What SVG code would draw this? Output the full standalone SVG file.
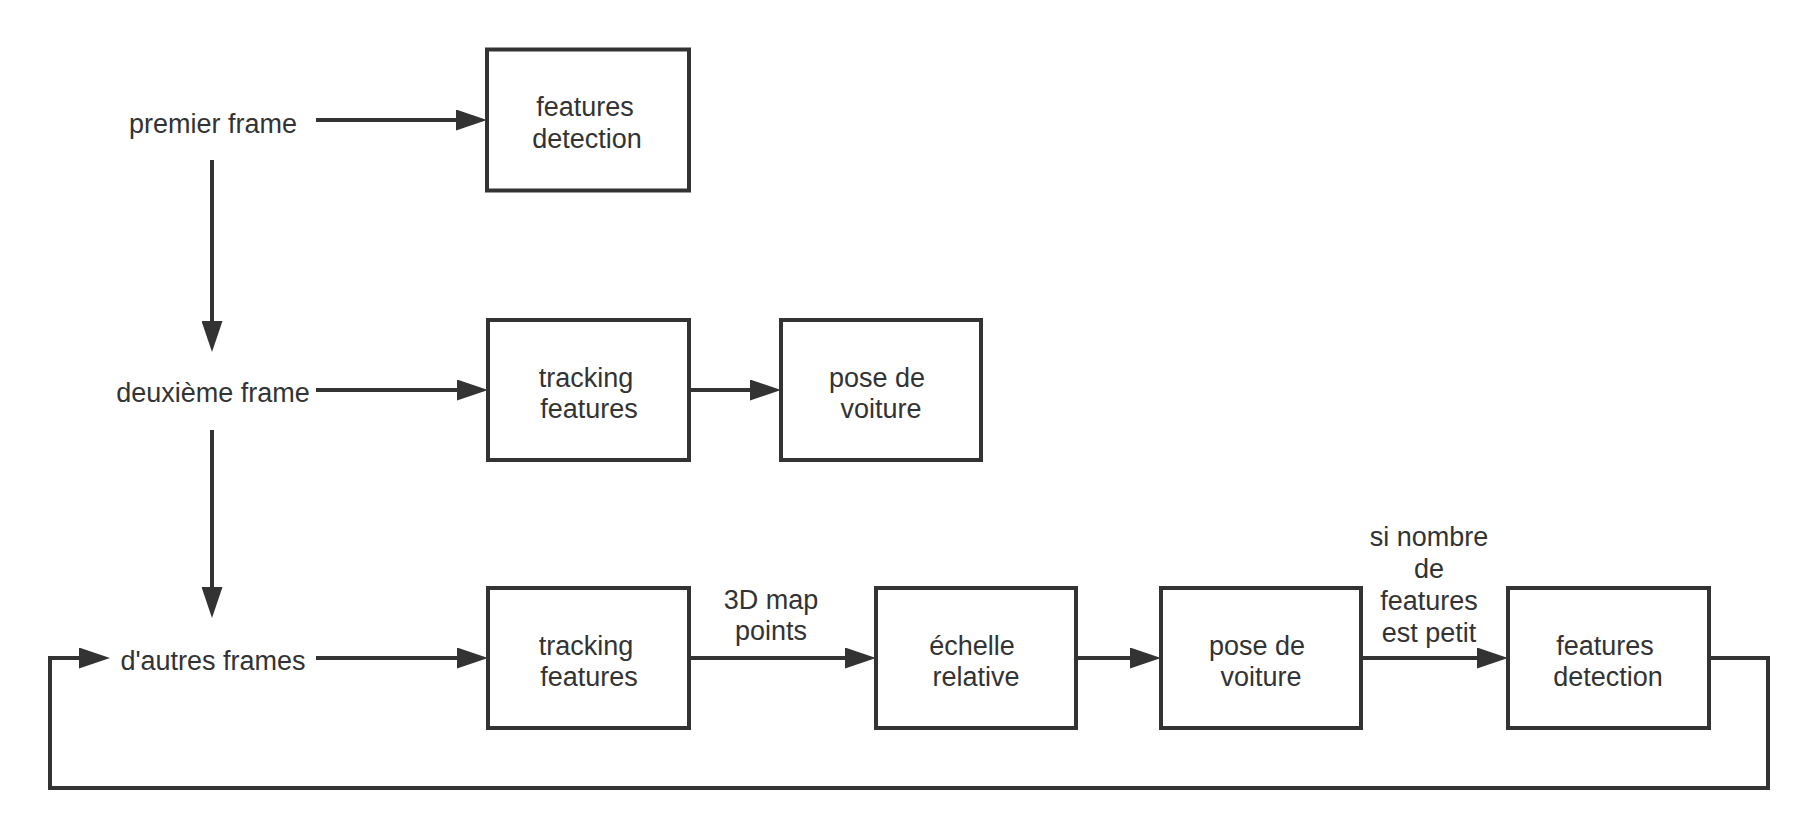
<svg xmlns="http://www.w3.org/2000/svg" width="1818" height="838" viewBox="0 0 1818 838">
  <style>
    .box { fill: #ffffff; stroke: #333333; stroke-width: 4; }
    .edge { fill: none; stroke: #333333; stroke-width: 4; }
    .t { font-family: "Liberation Sans", Arial, sans-serif; font-size: 27px; fill: #333333; text-anchor: middle; }
  </style>
  <defs>
    <marker id="arrow" viewBox="0 0 31 21" refX="5" refY="10.5" markerWidth="31" markerHeight="21" markerUnits="userSpaceOnUse" orient="auto">
      <path d="M0,0 L31,10.5 L0,21 z" fill="#333333"/>
    </marker>
  </defs>
  <rect width="1818" height="838" fill="#ffffff"/>

  <g id="connectors">
    <path class="edge" d="M316,120 L461,120" marker-end="url(#arrow)"/>
    <path class="edge" d="M212,160 L212,326" marker-end="url(#arrow)"/>
    <path class="edge" d="M316,390 L462,390" marker-end="url(#arrow)"/>
    <path class="edge" d="M689,390 L755,390" marker-end="url(#arrow)"/>
    <path class="edge" d="M212,430 L212,592" marker-end="url(#arrow)"/>
    <path class="edge" d="M316,658 L462,658" marker-end="url(#arrow)"/>
    <path class="edge" d="M689,658 L850,658" marker-end="url(#arrow)"/>
    <path class="edge" d="M1076,658 L1135,658" marker-end="url(#arrow)"/>
    <path class="edge" d="M1361,658 L1482,658" marker-end="url(#arrow)"/>
    <path class="edge" d="M1709,658 L1768,658 L1768,788 L50,788 L50,658 L84,658" marker-end="url(#arrow)"/>
    <g id="label-3d">
      <text class="t" x="771" y="609">3D map</text>
      <text class="t" x="771" y="640">points</text>
    </g>
    <g id="label-si">
      <text class="t" x="1429" y="546">si nombre</text>
      <text class="t" x="1429" y="578">de</text>
      <text class="t" x="1429" y="610">features</text>
      <text class="t" x="1429" y="641.5">est petit</text>
    </g>
  </g>

  <g id="premier-frame">
    <text class="t" x="213" y="132.5">premier frame</text>
  </g>
  <g id="deuxieme-frame">
    <text class="t" x="213" y="402">deuxième frame</text>
  </g>
  <g id="autres-frames">
    <text class="t" x="213" y="670">d'autres frames</text>
  </g>

  <g id="features-detection-1">
    <rect class="box" x="487" y="49.5" width="202" height="141"/>
    <text class="t" x="585" y="116">features</text>
    <text class="t" x="587" y="147.5">detection</text>
  </g>
  <g id="tracking-features-2">
    <rect class="box" x="488" y="320" width="201" height="140"/>
    <text class="t" x="586" y="387">tracking</text>
    <text class="t" x="589" y="418">features</text>
  </g>
  <g id="pose-voiture-2">
    <rect class="box" x="781" y="320" width="200" height="140"/>
    <text class="t" x="877" y="387">pose de</text>
    <text class="t" x="881" y="418">voiture</text>
  </g>
  <g id="tracking-features-3">
    <rect class="box" x="488" y="588" width="201" height="140"/>
    <text class="t" x="586" y="654.5">tracking</text>
    <text class="t" x="589" y="686">features</text>
  </g>
  <g id="echelle-relative">
    <rect class="box" x="876" y="588" width="200" height="140"/>
    <text class="t" x="972" y="654.5">échelle</text>
    <text class="t" x="976" y="686">relative</text>
  </g>
  <g id="pose-voiture-3">
    <rect class="box" x="1161" y="588" width="200" height="140"/>
    <text class="t" x="1257" y="654.5">pose de</text>
    <text class="t" x="1261" y="686">voiture</text>
  </g>
  <g id="features-detection-3">
    <rect class="box" x="1508" y="588" width="201" height="140"/>
    <text class="t" x="1605" y="654.5">features</text>
    <text class="t" x="1608" y="686">detection</text>
  </g>
</svg>
